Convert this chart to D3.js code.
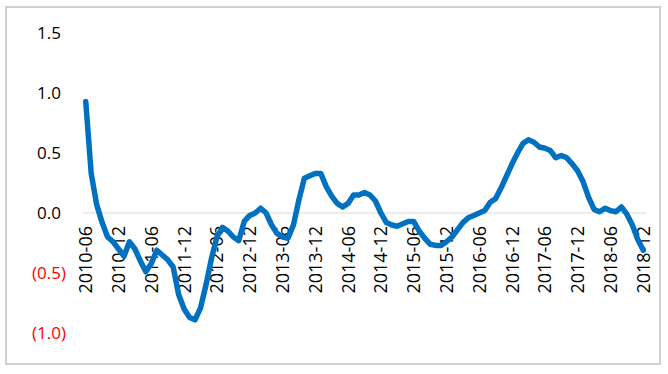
<!DOCTYPE html>
<html><head><meta charset="utf-8">
<script src="https://cdn.jsdelivr.net/npm/d3@7/dist/d3.min.js"></script>
<style>html,body{margin:0;padding:0;background:#fff;}svg{display:block;}</style>
</head><body>
<svg id="chart" width="668" height="374"></svg>
<script>
// ---- data ----
const startYear = 2010, startMonth = 6, monthCount = 103;
const categories = [];
for (let k = 0; k < monthCount; k++) {
  const m = startMonth - 1 + k;
  const y = startYear + Math.floor(m / 12);
  const mm = (m % 12) + 1;
  categories.push(y + "-" + (mm < 10 ? "0" + mm : mm));
}
const values = [
  0.93, 0.33, 0.07, -0.08, -0.20, -0.24, -0.30, -0.36, -0.24, -0.30,
  -0.40, -0.49, -0.42, -0.31, -0.35, -0.39, -0.45, -0.68, -0.80, -0.87,
  -0.89, -0.79, -0.60, -0.38, -0.20, -0.12, -0.15, -0.20, -0.23, -0.07,
  -0.02, 0.00, 0.04, 0.00, -0.10, -0.17, -0.20, -0.21, -0.10, 0.11,
  0.29, 0.31, 0.33, 0.33, 0.22, 0.14, 0.08, 0.05, 0.08, 0.15,
  0.15, 0.17, 0.15, 0.10, 0.00, -0.08, -0.10, -0.11, -0.09, -0.07,
  -0.07, -0.15, -0.21, -0.26, -0.27, -0.27, -0.24, -0.20, -0.14, -0.08,
  -0.04, -0.02, 0.00, 0.02, 0.09, 0.12, 0.21, 0.31, 0.41, 0.50,
  0.58, 0.61, 0.59, 0.55, 0.54, 0.52, 0.46, 0.48, 0.46, 0.41,
  0.35, 0.26, 0.13, 0.03, 0.01, 0.04, 0.02, 0.01, 0.05, -0.01,
  -0.10, -0.22, -0.31
];
const xTickLabels = ["2010-06","2010-12","2011-06","2011-12","2012-06","2012-12","2013-06","2013-12",
  "2014-06","2014-12","2015-06","2015-12","2016-06","2016-12","2017-06","2017-12","2018-06","2018-12"];
const yTicks = [-1.0, -0.5, 0.0, 0.5, 1.0, 1.5];

// ---- layout ----
const svg = d3.select("#chart");
const font = "'Open Sans', 'Noto Sans', sans-serif";
svg.append("rect").attr("x", 6).attr("y", 7).attr("width", 654).attr("height", 357)
  .attr("fill", "#fff").attr("stroke", "#d0d0d0").attr("stroke-width", 2);

const x = d3.scalePoint().domain(categories).range([83, 646]).padding(0.5);
const y = d3.scaleLinear().domain([-1.0, 1.5]).range([333, 33]);

// y labels
const fmt = d3.format(".1f");
const yl = svg.append("g");
yTicks.forEach(t => {
  const txt = yl.append("text").attr("x", 66).attr("y", y(t)).attr("dy", "0.36em")
    .attr("text-anchor", "end").attr("font-family", font).attr("font-size", 17)
    .attr("fill", t < 0 ? "#ff0000" : "#000");
  if (t < 0) txt.text("(" + fmt(-t) + ")");
  else { txt.append("tspan").text(fmt(t)); txt.append("tspan").attr("fill-opacity", 0).text(")"); }
});

// zero line
svg.append("line").attr("x1", 83).attr("x2", 646).attr("y1", y(0)).attr("y2", y(0))
  .attr("stroke", "#d9d9d9").attr("stroke-width", 1);

// x labels
const xl = svg.append("g");
xTickLabels.forEach(lab => {
  xl.append("text")
    .attr("transform", `translate(${x(lab)},${y(0) + 13}) rotate(-90)`)
    .attr("dy", "0.36em").attr("text-anchor", "end")
    .attr("font-family", font).attr("font-size", 18).attr("fill", "#000")
    .text(lab);
});

// line
const line = d3.line().x((d, i) => x(categories[i])).y(d => y(d));
svg.append("path").datum(values).attr("d", line)
  .attr("fill", "none").attr("stroke", "#0070C0").attr("stroke-width", 5.5)
  .attr("stroke-linejoin", "round").attr("stroke-linecap", "round");
</script>
</body></html>
